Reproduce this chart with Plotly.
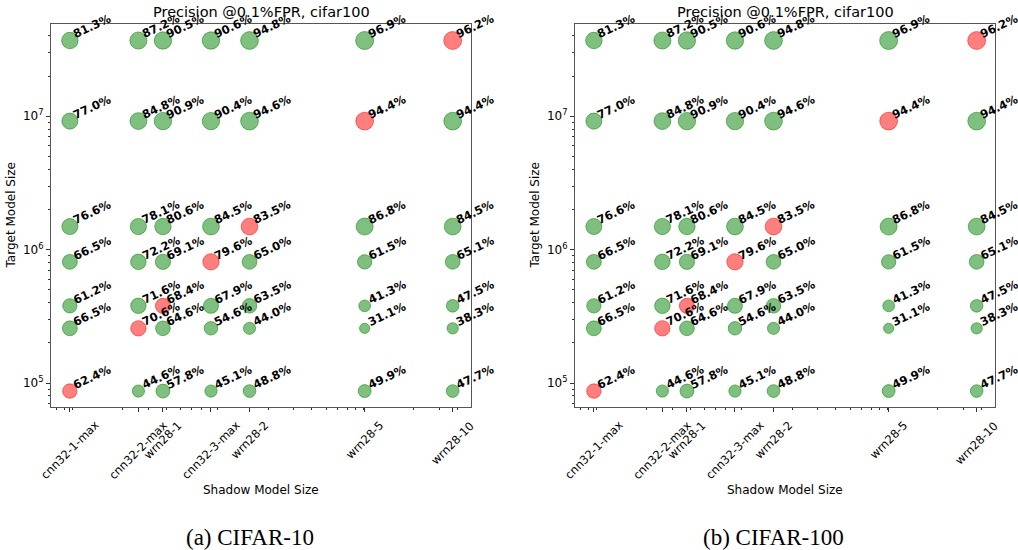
import math
import plotly.graph_objects as go

# ---------------- data ----------------
models = ["cnn32-1-max", "cnn32-2-max", "wrn28-1", "cnn32-3-max", "wrn28-2", "wrn28-5", "wrn28-10"]
model_params = [8.7e4, 2.57e5, 3.79e5, 8.1e5, 1.49e6, 9.2e6, 3.7e7]

# rows: target model (same order as models), columns: shadow model
precision_cifar10 = [
    [62.4, 44.6, 57.8, 45.1, 48.8, 49.9, 47.7],
    [66.5, 70.6, 64.6, 54.6, 44.0, 31.1, 38.3],
    [61.2, 71.6, 68.4, 67.9, 63.5, 41.3, 47.5],
    [66.5, 72.2, 69.1, 79.6, 65.0, 61.5, 65.1],
    [76.6, 78.1, 80.6, 84.5, 83.5, 86.8, 84.5],
    [77.0, 84.8, 90.9, 90.4, 94.6, 94.4, 94.4],
    [81.3, 87.2, 90.5, 90.6, 94.8, 96.9, 96.2],
]
precision_cifar100 = [
    [62.4, 44.6, 57.8, 45.1, 48.8, 49.9, 47.7],
    [66.5, 70.6, 64.6, 54.6, 44.0, 31.1, 38.3],
    [61.2, 71.6, 68.4, 67.9, 63.5, 41.3, 47.5],
    [66.5, 72.2, 69.1, 79.6, 65.0, 61.5, 65.1],
    [76.6, 78.1, 80.6, 84.5, 83.5, 86.8, 84.5],
    [77.0, 84.8, 90.9, 90.4, 94.6, 94.4, 94.4],
    [81.3, 87.2, 90.5, 90.6, 94.8, 96.9, 96.2],
]
panel_titles = ["Precision @0.1%FPR, cifar100", "Precision @0.1%FPR, cifar100"]
captions = ["(a) CIFAR-10", "(b) CIFAR-100"]
x_title = "Shadow Model Size"
y_title = "Target Model Size"

# ---------------- layout helpers ----------------
W, H = 1018, 550
panels = [(51, 471), (575, 995)]
top_px, bot_px = 24, 407
xr = [4.81, 7.694]
yr = [4.82, 7.692]
FONT = "DejaVu Sans"
FRAME = "#555555"

def py(p):
    return 1 - p / H

minor_vals = []
for e in range(4, 8):
    for m in range(2, 10):
        v = m * 10 ** e
        if 10 ** xr[0] <= v <= 10 ** xr[1]:
            minor_vals.append(v)

fig = go.Figure()
annotations = []

for k, (data, (x0, x1)) in enumerate(zip([precision_cifar10, precision_cifar100], panels)):
    xa = "x" if k == 0 else "x2"
    ya = "y" if k == 0 else "y2"
    xs, ys, vals, cols = [], [], [], []
    for i, row in enumerate(data):
        for j, v in enumerate(row):
            xs.append(model_params[j])
            ys.append(model_params[i])
            vals.append(v)
            cols.append("rgba(255,0,0,0.5)" if i == j else "rgba(0,128,0,0.5)")
    fig.add_trace(go.Scatter(
        x=xs, y=ys, mode="markers", xaxis=xa, yaxis=ya,
        marker=dict(size=[1.83 * math.sqrt(v) for v in vals], color=cols, opacity=1,
                    line=dict(color=cols, width=1)),
        cliponaxis=False, showlegend=False, hoverinfo="skip"))
    for xv, yv, v in zip(xs, ys, vals):
        annotations.append(dict(
            x=math.log10(xv), y=math.log10(yv), xref=xa, yref=ya,
            text="<b>%.1f%%</b>" % v, showarrow=False, textangle=-25,
            xanchor="left", yanchor="bottom", xshift=0, yshift=-2, borderpad=0,
            font=dict(family=FONT, size=11.5, color="black")))
    # x tick labels
    for name, p in zip(models, model_params):
        annotations.append(dict(
            x=math.log10(p), y=py(bot_px), xref=xa, yref="paper",
            text=name, showarrow=False, textangle=-45,
            xanchor="center", yanchor="top", yshift=-10, borderpad=0,
            font=dict(family=FONT, size=11.5, color="black")))
    cx = (x0 + x1) / 2 / W
    annotations.append(dict(x=cx, y=py(12), xref="paper", yref="paper",
                            text=panel_titles[k], showarrow=False,
                            xanchor="center", yanchor="middle",
                            font=dict(family=FONT, size=14.5, color="black")))
    annotations.append(dict(x=cx, y=py(490), xref="paper", yref="paper",
                            text=x_title, showarrow=False,
                            xanchor="center", yanchor="middle",
                            font=dict(family=FONT, size=12, color="black")))
    annotations.append(dict(x=(x0 - 41) / W, y=py((top_px + bot_px) / 2), xref="paper", yref="paper",
                            text=y_title, showarrow=False, textangle=-90,
                            xanchor="center", yanchor="middle",
                            font=dict(family=FONT, size=12, color="black")))
    annotations.append(dict(x=(x0 + x1) / 2 / W - 0.011, y=py(537), xref="paper", yref="paper",
                            text=captions[k], showarrow=False,
                            xanchor="center", yanchor="middle",
                            font=dict(family="Liberation Serif", size=23, color="black")))

    axis_common = dict(type="log", showgrid=False, zeroline=False, showline=True,
                       linecolor=FRAME, linewidth=1, mirror=True,
                       ticks="outside", ticklen=4, tickwidth=1, tickcolor="#333",
                       minor=dict(ticks="outside", ticklen=2, tickwidth=1, tickcolor="#333",
                                  tickvals=minor_vals, showgrid=False))
    xaxis = dict(axis_common, domain=[x0 / W, x1 / W], range=xr,
                 tickmode="array", tickvals=model_params, showticklabels=False,
                 anchor=ya)
    yaxis = dict(axis_common, domain=[py(bot_px), py(top_px)], range=yr,
                 tickmode="array", tickvals=[1e5, 1e6, 1e7],
                 ticktext=["10<sup>5</sup>", "10<sup>6</sup>", "10<sup>7</sup>"],
                 tickfont=dict(family=FONT, size=12, color="black"),
                 anchor=xa)
    if k == 0:
        fig.update_layout(xaxis=xaxis, yaxis=yaxis)
    else:
        fig.update_layout(xaxis2=xaxis, yaxis2=yaxis)

fig.update_layout(width=W, height=H,
                  margin=dict(l=0, r=0, t=0, b=0, autoexpand=False),
                  paper_bgcolor="white", plot_bgcolor="white",
                  annotations=annotations, showlegend=False,
                  font=dict(family=FONT, color="black"))
fig.write_html("out.html", config={"displayModeBar": False},
               post_script="document.body.style.margin='0';document.body.style.overflow='hidden';")
